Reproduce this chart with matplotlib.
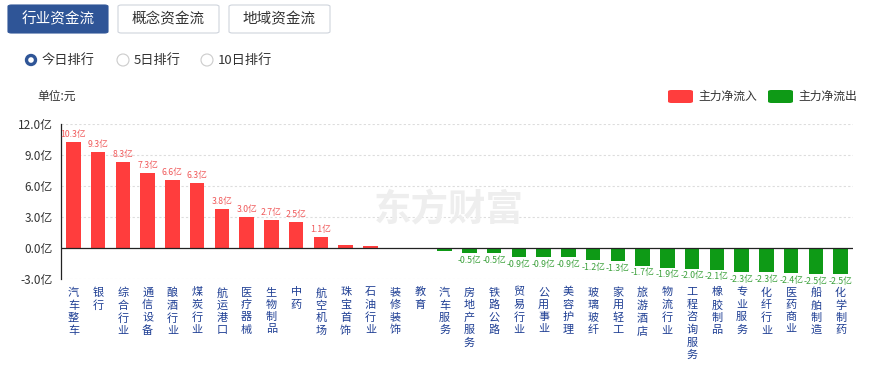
import matplotlib.pyplot as plt
from matplotlib.patches import FancyBboxPatch, Ellipse

plt.rcParams["font.family"] = ["Noto Sans CJK SC", "DejaVu Sans"]

# data (亿元)
industries = [
    "汽车整车", "银行", "综合行业", "通信设备", "酿酒行业", "煤炭行业", "航运港口",
    "医疗器械", "生物制品", "中药", "航空机场", "珠宝首饰", "石油行业", "装修装饰",
    "教育", "汽车服务", "房地产服务", "铁路公路", "贸易行业", "公用事业", "美容护理",
    "玻璃玻纤", "家用轻工", "旅游酒店", "物流行业", "工程咨询服务", "橡胶制品",
    "专业服务", "化纤行业", "医药商业", "船舶制造", "化学制药",
]
net_flow = [
    10.3, 9.3, 8.3, 7.3, 6.6, 6.3, 3.8, 3.0, 2.7, 2.5, 1.1, 0.3, 0.2, -0.05,
    -0.1, -0.3, -0.5, -0.5, -0.9, -0.9, -0.9, -1.2, -1.3, -1.7, -1.9, -2.0, -2.1,
    -2.3, -2.3, -2.4, -2.5, -2.5,
]
yticks = [-3, 0, 3, 6, 9, 12]

RED = "#ff3d3d"
GREEN = "#0e9a16"
W, H = 874, 365


def fx(px):
    return px / W


def fy(py):
    return 1 - py / H


fig = plt.figure(figsize=(W / 100, H / 100), dpi=100)

# top tab buttons
tabs = [("行业资金流", 8, 108, True), ("概念资金流", 118, 219, False), ("地域资金流", 229, 330, False)]
for label, x0, x1, active in tabs:
    box = FancyBboxPatch((fx(x0), fy(33)), fx(x1 - x0), (33 - 5) / H,
                         boxstyle="round,pad=0,rounding_size=0.004",
                         transform=fig.transFigure,
                         facecolor="#2f5597" if active else "white",
                         edgecolor="#2f5597" if active else "#cfd4dc", linewidth=0.8)
    fig.patches.append(box)
    fig.text(fx((x0 + x1) / 2), fy(19), label, ha="center", va="center",
             fontsize=10.5, color="white" if active else "#333333")

# radio buttons
radios = [("今日排行", 31, True), ("5日排行", 123, False), ("10日排行", 207, False)]
for label, cx, on in radios:
    d = 9 if on else 12
    fig.patches.append(Ellipse((fx(cx), fy(60)), d / W, d / H, transform=fig.transFigure,
                               facecolor="white", edgecolor="#2f5597" if on else "#cccccc",
                               linewidth=2.4 if on else 0.8))
    fig.text(fx(cx + 11), fy(60), label, ha="left", va="center", fontsize=9.5, color="#333333")

fig.text(fx(37), fy(96), "单位:元", ha="left", va="center", fontsize=8.5, color="#333333")

# legend
for label, x0, color in [("主力净流入", 668, RED), ("主力净流出", 768, GREEN)]:
    fig.patches.append(FancyBboxPatch((fx(x0), fy(103)), fx(25), 13 / H,
                                      boxstyle="round,pad=0,rounding_size=0.004",
                                      transform=fig.transFigure, facecolor=color, edgecolor="none"))
    fig.text(fx(x0 + 30), fy(96), label, ha="left", va="center", fontsize=8.5, color="#333333")

# watermark
fig.text(fx(449), fy(210), "东方财富", ha="center", va="center", fontsize=27,
         fontweight="bold", color="#eeeeee", zorder=0)

ax = fig.add_axes([fx(61), fy(279), fx(853 - 61), (279 - 124) / H])
ax.set_facecolor("none")
x = list(range(len(industries)))
colors = [RED if v > 0 else GREEN for v in net_flow]
ax.bar(x, net_flow, width=0.59, color=colors, zorder=3)

ax.set_xlim(-0.5, len(industries) - 0.5)
ax.set_ylim(-3, 12)
ax.set_yticks(yticks)
ax.set_yticklabels([f"{t:.1f}亿" for t in yticks], fontsize=8.5, color="#333333")
ax.tick_params(axis="y", length=0, pad=6)
ax.set_xticks([])
for t in yticks:
    if t != 0:
        ax.axhline(t, color="#dddddd", linewidth=0.8, linestyle=(0, (2, 2)), zorder=1)
ax.axhline(0, color="#222222", linewidth=0.9, zorder=4)
for s in ["top", "right", "bottom"]:
    ax.spines[s].set_visible(False)
ax.spines["left"].set_color("#222222")
ax.spines["left"].set_linewidth(0.9)

# value labels
for i, v in enumerate(net_flow):
    if abs(v) < 0.5:
        continue
    if v > 0:
        ax.annotate(f"{v:.1f}亿", (i, v), xytext=(0, 2), textcoords="offset points",
                    ha="center", va="bottom", fontsize=6.3, color="#f0595a")
    else:
        ax.annotate(f"{v:.1f}亿", (i, v), xytext=(0, -2), textcoords="offset points",
                    ha="center", va="top", fontsize=6.3, color="#3aa03a")

# vertical category labels
for i, name in enumerate(industries):
    ax.annotate("\n".join(name), (i, -3), xytext=(0, -6), textcoords="offset points",
                ha="center", va="top", fontsize=8, color="#1f3f94", linespacing=1.28,
                annotation_clip=False)

fig.savefig("out.png", dpi=100)
